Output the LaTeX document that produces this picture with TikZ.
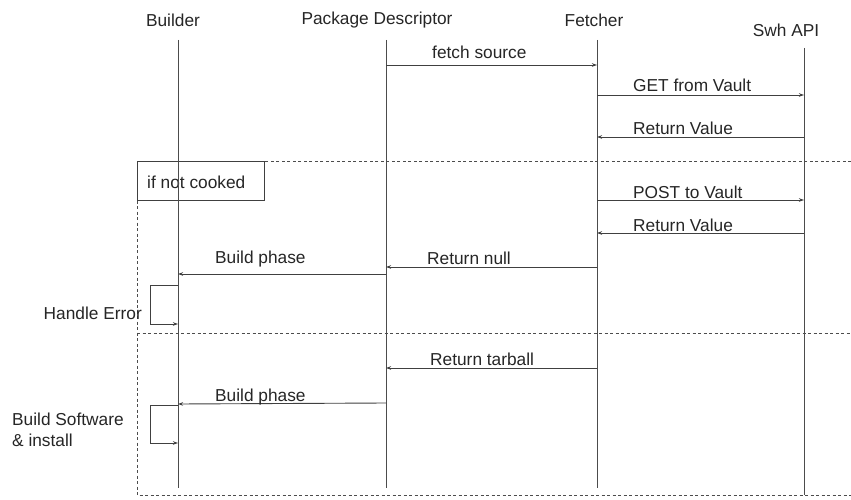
\documentclass[tikz,border=0pt]{standalone}
\usepackage{fontspec}
\setmainfont{Liberation Sans}
\usetikzlibrary{arrows.meta}
\begin{document}
\begin{tikzpicture}[x=1pt,y=-1pt,
  every node/.style={font=\fontsize{17.3}{20}\selectfont, text=black!85, inner sep=0pt},
  life/.style={draw=black!70, line width=0.9pt},
  msg/.style={draw=black!75, line width=0.9pt, -{Stealth[length=5pt,width=3.5pt]}},
  frm/.style={draw=black!70, line width=0.9pt, dash pattern=on 3pt off 2.5pt},
  lbl/.style={anchor=west},
  boxed/.style={draw=black!75, line width=0.9pt}]
\useasboundingbox (0,0) rectangle (851,500);
\fill[white] (0,0) rectangle (851,500);
% headers
\node (hb) at (173,20) {Builder};
\node (hpd) at (377,20) {Package Descriptor};
\node (hf) at (594,20) {Fetcher};
\node (hs) at (786,30) {Swh API};
% lifeline ends
\coordinate (b0) at (178,40);  \coordinate (b1) at (178,488);
\coordinate (p0) at (386,40);  \coordinate (p1) at (386,488);
\coordinate (f0) at (597,40);  \coordinate (f1) at (597,488);
\coordinate (s0) at (804,48);  \coordinate (s1) at (804,495);
% frames
\coordinate (fTL) at (137,161); \coordinate (fTR) at (851,161);
\coordinate (fBL) at (137,495); \coordinate (fBR) at (851,495);
\coordinate (fML) at (137,333); \coordinate (fMR) at (851,333);
\draw[frm] (fTR) -- (fTL) -- (fBL) -- (fBR);
\draw[frm] (fML) -- (fMR);
\node[boxed, minimum width=127pt, minimum height=39pt, anchor=north west] (cond) at (137,161) {};
\node[lbl] (condt) at (147,182) {if not cooked};
\draw[life] (b0) -- (b1);
\draw[life] (p0) -- (p1);
\draw[life] (f0) -- (f1);
\draw[life] (s0) -- (s1);
% message points
\coordinate (m1a) at (386,65);  \coordinate (m1b) at (597,65);
\coordinate (m2a) at (597,95);  \coordinate (m2b) at (804,95);
\coordinate (m3a) at (804,137); \coordinate (m3b) at (597,137);
\coordinate (m4a) at (597,200); \coordinate (m4b) at (804,200);
\coordinate (m5a) at (804,233); \coordinate (m5b) at (597,233);
\coordinate (m6a) at (597,267); \coordinate (m6b) at (386,267);
\coordinate (m7a) at (386,274); \coordinate (m7b) at (178,274);
\coordinate (m8a) at (597,368); \coordinate (m8b) at (386,368);
\coordinate (m9a) at (386,403); \coordinate (m9b) at (178,404);
\draw[msg] (m1a) -- (m1b);
\draw[msg] (m2a) -- (m2b);
\draw[msg] (m3a) -- (m3b);
\draw[msg] (m4a) -- (m4b);
\draw[msg] (m5a) -- (m5b);
\draw[msg] (m6a) -- (m6b);
\draw[msg] (m7a) -- (m7b);
\draw[msg] (m8a) -- (m8b);
\draw[msg] (m9a) -- (m9b);
% self calls
\coordinate (h0) at (178,285); \coordinate (h1) at (150,285);
\coordinate (h2) at (150,324); \coordinate (h3) at (178,324);
\draw[msg] (h0) -- (h1) -- (h2) -- (h3);
\coordinate (k0) at (178,405); \coordinate (k1) at (150,405);
\coordinate (k2) at (150,443); \coordinate (k3) at (178,443);
\draw[msg] (k0) -- (k1) -- (k2) -- (k3);
% labels
\node[lbl] (l1) at (432,52) {fetch source};
\node[lbl] (l2) at (633,85) {GET from Vault};
\node[lbl] (l3) at (633,128) {Return Value};
\node[lbl] (l4) at (633,192) {POST to Vault};
\node[lbl] (l5) at (633,225) {Return Value};
\node[lbl] (l6) at (427,258) {Return null};
\node[lbl] (l7) at (215,259) {Build phase};
\node[lbl] (l8) at (430,359) {Return tarball};
\node[lbl] (l9) at (215,397) {Build phase};
\node[anchor=east] (l10) at (142,313) {Handle Error};
\node[anchor=west, align=left, font=\fontsize{17.3}{20.5}\selectfont] (l11) at (12,430) {Build Software\\\& install};
\end{tikzpicture}
\end{document}
